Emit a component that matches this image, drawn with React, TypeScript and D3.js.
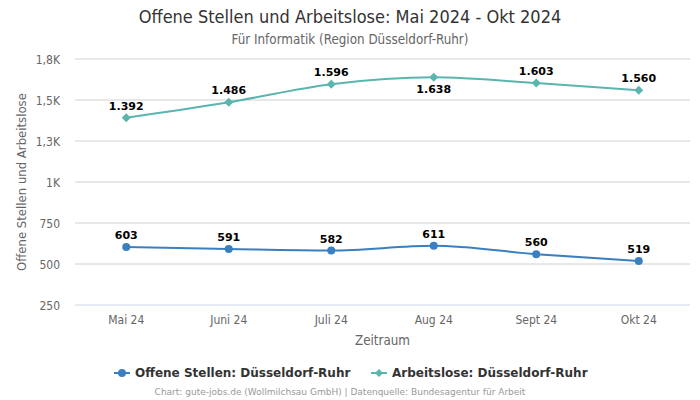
import React from "react";
import * as d3 from "d3";

const categories = ["Mai 24", "Juni 24", "Juli 24", "Aug 24", "Sept 24", "Okt 24"];
const offeneStellen = [603, 591, 582, 611, 560, 519];
const arbeitslose = [1392, 1486, 1596, 1638, 1603, 1560];
const yTicks = [250, 500, 750, 1000, 1250, 1500, 1750];
const yTickLabels = ["250", "500", "750", "1K", "1,3K", "1,5K", "1,8K"];
const greenLabelBelow = [false, false, false, true, false, false];

const W = 700;
const H = 400;
const left = 75;
const right = 690;
const top = 59;
const bottom = 305;
const BLUE = "#3a80c0";
const GREEN = "#5ab5af";
const FONT = "'DejaVu Sans', sans-serif";
const FONTC = "'DejaVu Sans Condensed', 'DejaVu Sans', sans-serif";

const fmt = (v: number) => (v >= 1000 ? d3.format(",")(v).replace(",", ".") : String(v));

export default function App() {
  const x = d3.scaleBand<string>().domain(categories).range([left, right]);
  const y = d3.scaleLinear().domain([250, 1750]).range([bottom, top]);
  const cx = (c: string) => (x(c) ?? 0) + x.bandwidth() / 2;
  const line = d3
    .line<number>()
    .x((_, i) => cx(categories[i]))
    .y((v) => y(v))
    .curve(d3.curveMonotoneX);
  const diamond = (px: number, py: number, s = 4.5) =>
    `M${px},${py - s}L${px + s},${py}L${px},${py + s}L${px - s},${py}Z`;

  return (
    <svg
      width={W}
      height={H}
      style={{ position: "absolute", left: 0, top: 0, background: "#fff" }}
      fontFamily={FONT}
    >
      <text x={350} y={23} textAnchor="middle" fontSize={18} fill="#333" fontFamily={FONTC}>
        Offene Stellen und Arbeitslose: Mai 2024 - Okt 2024
      </text>
      <text x={350} y={44} textAnchor="middle" fontSize={13.3} fill="#666" fontFamily={FONTC}>
        Für Informatik (Region Düsseldorf-Ruhr)
      </text>
      {yTicks.map((t, i) => (
        <g key={t}>
          <line
            x1={left}
            x2={right}
            y1={y(t)}
            y2={y(t)}
            stroke={i === 0 ? "#ccd6eb" : "#d0d0d0"}
            strokeWidth={1}
          />
          <text x={60} y={y(t) + 4.5} textAnchor="end" fontSize={12} fill="#666" fontFamily={FONTC}>
            {yTickLabels[i]}
          </text>
        </g>
      ))}
      <text
        transform={`translate(26,${(top + bottom) / 2}) rotate(-90)`}
        textAnchor="middle"
        fontSize={13}
        fill="#666"
        fontFamily={FONTC}
      >
        Offene Stellen und Arbeitslose
      </text>
      {categories.map((c) => (
        <text key={c} x={cx(c)} y={324} textAnchor="middle" fontSize={12} fill="#666" fontFamily={FONTC}>
          {c}
        </text>
      ))}
      <text x={(left + right) / 2} y={345} textAnchor="middle" fontSize={13.3} fill="#666" fontFamily={FONTC}>
        Zeitraum
      </text>

      <path d={line(arbeitslose) ?? ""} fill="none" stroke={GREEN} strokeWidth={2} />
      <path d={line(offeneStellen) ?? ""} fill="none" stroke={BLUE} strokeWidth={2} />
      {arbeitslose.map((v, i) => (
        <g key={"a" + i}>
          <path d={diamond(cx(categories[i]), y(v))} fill={GREEN} />
          <text
            x={cx(categories[i])}
            y={greenLabelBelow[i] ? y(v) + 16 : y(v) - 8}
            textAnchor="middle"
            fontSize={11}
            fontWeight="bold"
            fill="#000"
          >
            {fmt(v)}
          </text>
        </g>
      ))}
      {offeneStellen.map((v, i) => (
        <g key={"o" + i}>
          <circle cx={cx(categories[i])} cy={y(v)} r={4} fill={BLUE} />
          <text x={cx(categories[i])} y={y(v) - 8} textAnchor="middle" fontSize={11} fontWeight="bold" fill="#000">
            {fmt(v)}
          </text>
        </g>
      ))}

      <g>
        <line x1={114} x2={130} y1={373} y2={373} stroke={BLUE} strokeWidth={2} />
        <circle cx={122} cy={373} r={4} fill={BLUE} />
        <text x={135} y={377} fontSize={12} fontWeight="bold" fill="#333">
          Offene Stellen: Düsseldorf-Ruhr
        </text>
        <line x1={371} x2={387} y1={373} y2={373} stroke={GREEN} strokeWidth={2} />
        <path d={diamond(379, 373, 4)} fill={GREEN} />
        <text x={392} y={377} fontSize={12} fontWeight="bold" fill="#333">
          Arbeitslose: Düsseldorf-Ruhr
        </text>
      </g>
      <text x={340} y={395} textAnchor="middle" fontSize={9} fill="#999">
        Chart: gute-jobs.de (Wollmilchsau GmbH) | Datenquelle: Bundesagentur für Arbeit
      </text>
    </svg>
  );
}
